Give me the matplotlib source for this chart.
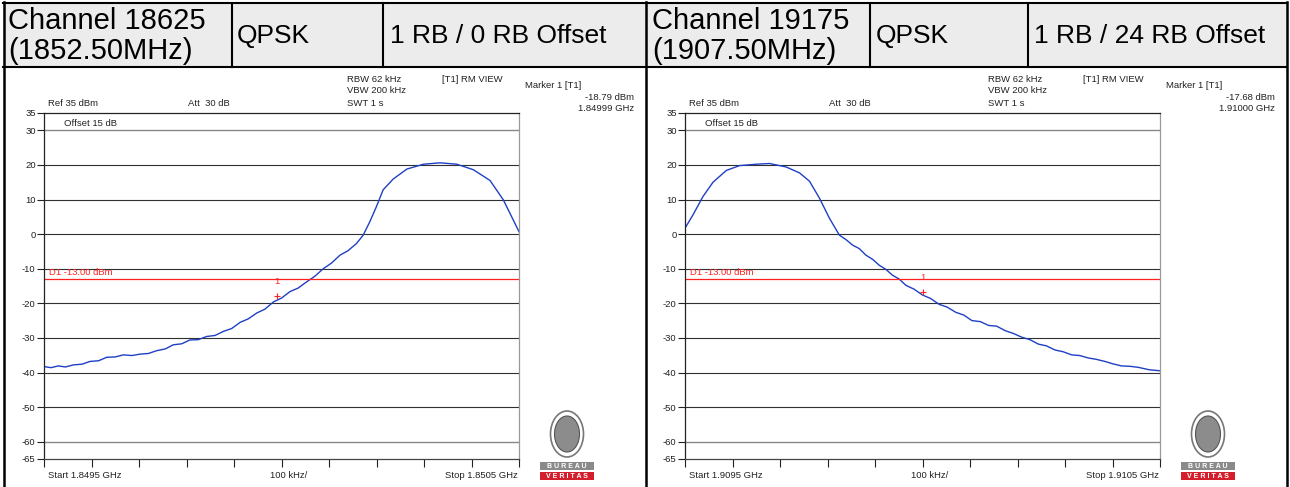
import matplotlib.pyplot as plt
from matplotlib.lines import Line2D
from matplotlib.patches import Rectangle, Ellipse

plt.rcParams['font.family'] = ['Liberation Sans', 'DejaVu Sans']

W, H = 1290, 487

# --- Data (kHz from start, dBm) ---
left_freq_khz = [0, 15, 30, 45, 62, 80, 97, 115, 132, 150, 167, 185, 202, 220, 237,
                 255, 272, 290, 307, 325, 342, 360, 378, 395, 413, 430, 448, 465,
                 483, 500, 518, 535, 553, 570, 588, 605, 623, 640, 658, 672, 686,
                 700, 714, 735, 764, 799, 834, 869, 904, 939, 967, 981, 1000]
left_level_dbm = [-38.3, -38.6, -38.1, -38.4, -37.8, -37.6, -36.8, -36.6, -35.6, -35.5,
                  -34.9, -35.1, -34.7, -34.5, -33.7, -33.2, -32.0, -31.7, -30.6, -30.5,
                  -29.6, -29.3, -28.1, -27.3, -25.5, -24.5, -22.8, -21.7, -19.6, -18.5,
                  -16.6, -15.6, -13.8, -12.2, -10.0, -8.4, -6.1, -4.8, -2.7, -0.3,
                  3.6, 8.0, 12.8, 15.9, 18.8, 20.2, 20.6, 20.2, 18.6, 15.5, 9.9,
                  6.0, 0.7]

right_freq_khz = [0, 17, 38, 59, 87, 115, 150, 178, 213, 241, 262, 283, 304, 325,
                  339, 353, 367, 381, 395, 409, 423, 437, 451, 465, 482, 500, 517,
                  535, 552, 570, 587, 604, 622, 639, 656, 674, 691, 709, 726, 744,
                  761, 779, 796, 814, 831, 849, 866, 884, 901, 919, 936, 954, 977, 1000]
right_level_dbm = [1.7, 5.6, 10.9, 15.0, 18.4, 19.8, 20.2, 20.4, 19.4, 17.7, 15.3, 10.4,
                   4.6, -0.3, -1.6, -3.2, -4.2, -6.1, -7.3, -9.0, -10.2, -11.9, -13.0,
                   -14.8, -15.9, -17.6, -18.6, -20.3, -21.1, -22.6, -23.4, -25.0, -25.3,
                   -26.4, -26.6, -27.9, -28.7, -29.8, -30.5, -31.8, -32.3, -33.5, -34.0,
                   -34.9, -35.1, -35.8, -36.2, -36.8, -37.5, -38.1, -38.2, -38.5, -39.2,
                   -39.5]

y_ticks = [35, 30, 20, 10, 0, -10, -20, -30, -40, -50, -60, -65]
grid_levels = [30, 20, 10, 0, -10, -20, -30, -40, -50, -60]
limit_dbm = -13.0

headers = [
    ['Channel 18625\n(1852.50MHz)', 'QPSK', '1 RB / 0 RB Offset'],
    ['Channel 19175\n(1907.50MHz)', 'QPSK', '1 RB / 24 RB Offset'],
]
starts = ['Start 1.8495 GHz', 'Start 1.9095 GHz']
stops = ['Stop 1.8505 GHz', 'Stop 1.9105 GHz']
marker_khz = [490, 500]
marker_dbm = [-18.79, -17.68]
marker_text = [['-18.79 dBm', '1.84999 GHz'], ['-17.68 dBm', '1.91000 GHz']]
panels = [(left_freq_khz, left_level_dbm), (right_freq_khz, right_level_dbm)]


def fx(x):
    return x / W


def fy(y):
    return 1 - y / H


def hline(x0, x1, y, **kw):
    fig.add_artist(Line2D([fx(x0), fx(x1)], [fy(y), fy(y)], transform=fig.transFigure, **kw))


def vline(x, y0, y1, **kw):
    fig.add_artist(Line2D([fx(x), fx(x)], [fy(y0), fy(y1)], transform=fig.transFigure, **kw))


fig = plt.figure(figsize=(W / 100, H / 100), dpi=100)
fig.patch.set_facecolor('white')

# --- Table frame ---
fig.add_artist(Rectangle((fx(3), fy(67)), fx(1284), 64 / H, transform=fig.transFigure,
                         facecolor='#ececec', edgecolor='none'))
hline(3, 1287, 3, color='black', lw=1.5)
hline(3, 1287, 67, color='black', lw=1.5)
for x in [4, 646, 1287]:
    vline(x, 2, 487, color='black', lw=1.8)
for x in [232, 383, 870, 1028]:
    vline(x, 3, 67, color='black', lw=1.5)

cell_x = [[8, 237, 390], [652, 876, 1034]]
for side in range(2):
    fig.text(fx(cell_x[side][0]), fy(36), headers[side][0], fontsize=21, ha='left',
             va='center', linespacing=1.1, color='black')
    for i in (1, 2):
        fig.text(fx(cell_x[side][i]), fy(36), headers[side][i], fontsize=19, ha='left',
                 va='center', color='black')

# --- Spectrum panels ---
small = dict(fontsize=6.8, color='#222222')
offset = [0, 641]
for side in range(2):
    dx = offset[side]
    freq, level = panels[side]
    ax = fig.add_axes([fx(44 + dx), fy(459), 475 / W, 346 / H])
    ax.plot(freq, level, color='#1f3fc4', lw=1.0)
    ax.axhline(limit_dbm, color='#ff2020', lw=0.9)
    for g in grid_levels:
        c = '#888888' if g in (30, -60) else '#303030'
        ax.axhline(g, color=c, lw=1.0 if g in (30, -60) else 0.8, zorder=0)
    ax.set_xlim(0, 1000)
    ax.set_ylim(-65, 35)
    ax.set_yticks(y_ticks)
    ax.set_yticklabels([str(t) for t in y_ticks])
    ax.set_xticks(range(0, 1001, 100))
    ax.set_xticklabels([])
    ax.tick_params(axis='y', length=5, width=0.8, pad=1, labelsize=6.8, colors='#222222')
    ax.tick_params(axis='x', length=6, width=0.8, direction='out', colors='#222222')
    ax.spines['left'].set_color('#222222')
    ax.spines['top'].set_color('#222222')
    ax.spines['bottom'].set_color('#444444')
    ax.spines['right'].set_color('#999999')
    for s in ax.spines.values():
        s.set_linewidth(0.9)

    # limit line label and marker
    ax.text(10, limit_dbm + 0.6, 'D1 -13.00 dBm', color='#ff2020', fontsize=6.8,
            ha='left', va='bottom')
    ax.text(marker_khz[side], marker_dbm[side] + 5.2, '1', color='#ff2020',
            fontsize=6.8, ha='center', va='center')
    ax.plot([marker_khz[side]], [marker_dbm[side] + 1], marker='+', color='#ff2020',
            ms=5, mew=0.8)

    # instrument annotations
    fig.text(fx(48 + dx), fy(104), 'Ref 35 dBm', ha='left', va='center', **small)
    fig.text(fx(188 + dx), fy(104), 'Att  30 dB', ha='left', va='center', **small)
    fig.text(fx(64 + dx), fy(124), 'Offset 15 dB', ha='left', va='center', **small)
    fig.text(fx(347 + dx), fy(79), 'RBW 62 kHz', ha='left', va='center', **small)
    fig.text(fx(347 + dx), fy(91), 'VBW 200 kHz', ha='left', va='center', **small)
    fig.text(fx(347 + dx), fy(103), 'SWT 1 s', ha='left', va='center', **small)
    fig.text(fx(442 + dx), fy(79), '[T1] RM VIEW', ha='left', va='center', **small)
    fig.text(fx(525 + dx), fy(85), 'Marker 1 [T1]', ha='left', va='center', **small)
    fig.text(fx(634 + dx), fy(97), marker_text[side][0], ha='right', va='center', **small)
    fig.text(fx(634 + dx), fy(109), marker_text[side][1], ha='right', va='center', **small)
    fig.text(fx(48 + dx), fy(476), starts[side], ha='left', va='center', **small)
    fig.text(fx(270 + dx), fy(476), '100 kHz/', ha='left', va='center', **small)
    fig.text(fx(518 + dx), fy(476), stops[side], ha='right', va='center', **small)

    # Bureau Veritas badge
    cx = 567 + dx
    fig.add_artist(Ellipse((fx(cx), fy(434)), 33 / W, 46 / H, transform=fig.transFigure,
                           facecolor='white', edgecolor='#777777', lw=1.2))
    fig.add_artist(Ellipse((fx(cx), fy(434)), 25 / W, 36 / H, transform=fig.transFigure,
                           facecolor='#8c8c8c', edgecolor='#555555', lw=0.8))
    fig.add_artist(Rectangle((fx(cx - 27), fy(470)), 54 / W, 8 / H, transform=fig.transFigure,
                             facecolor='#8a8a8a', edgecolor='none'))
    fig.add_artist(Rectangle((fx(cx - 27), fy(480)), 54 / W, 8 / H, transform=fig.transFigure,
                             facecolor='#d21f2b', edgecolor='none'))
    fig.text(fx(cx), fy(466), 'B U R E A U', ha='center', va='center', fontsize=5,
             color='white', fontweight='bold')
    fig.text(fx(cx), fy(476), 'V E R I T A S', ha='center', va='center', fontsize=5,
             color='white', fontweight='bold')

fig.savefig('out.png', dpi=100)
